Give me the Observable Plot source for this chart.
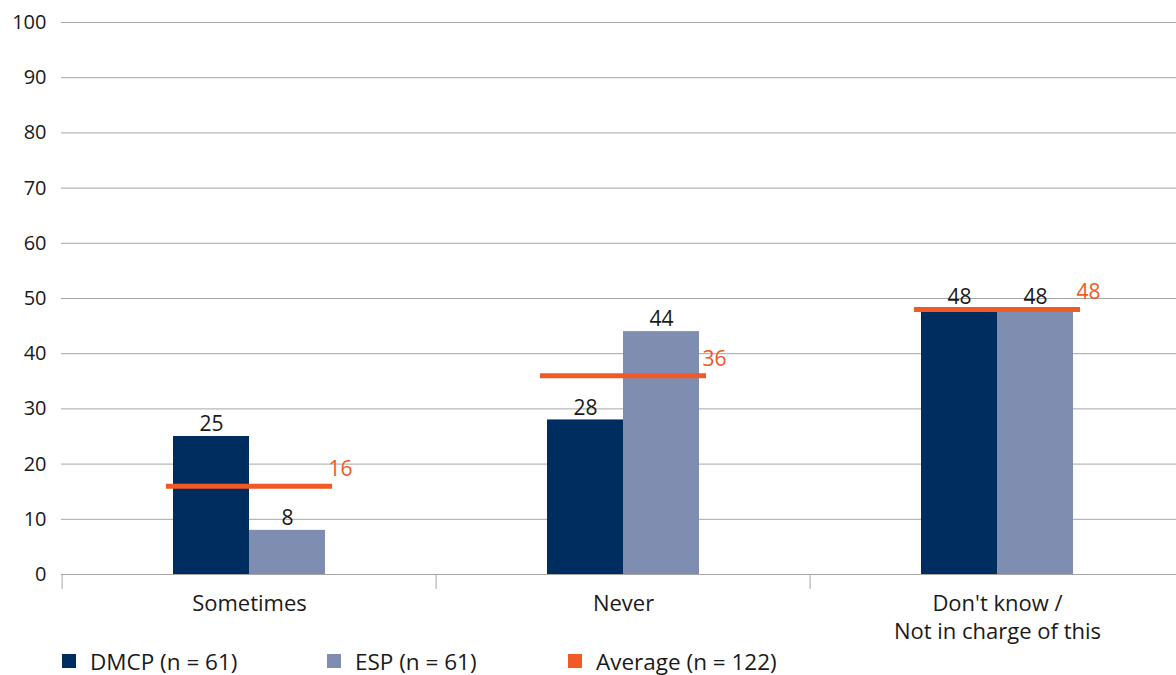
<!DOCTYPE html>
<html>
<head>
<meta charset="utf-8">
<script src="https://cdn.jsdelivr.net/npm/d3@7"></script>
<script src="https://cdn.jsdelivr.net/npm/@observablehq/plot@0.6"></script>
<style>
  html, body { margin: 0; padding: 0; background: #fff; }
  #wrap { width: 1176px; font-family: "Open Sans", sans-serif; }
  #legend { position: relative; height: 30px; font-size: 22.5px; color: #1a1a1a; }
  .item { position: absolute; top: 0; display: flex; align-items: center; height: 32px; }
  .sw { width: 14px; height: 14px; margin-right: 14px; }
</style>
</head>
<body>
<div id="wrap">
  <div id="chart"></div>
  <div id="legend"></div>
</div>
<script>
const categories = ["Sometimes", "Never", "Don't know /\nNot in charge of this"];
const dmcp = [25, 28, 48];
const esp = [8, 44, 48];
const average = [16, 36, 48];
const yTicks = [0, 10, 20, 30, 40, 50, 60, 70, 80, 90, 100];
const seriesNames = ["DMCP (n = 61)", "ESP (n = 61)", "Average (n = 122)"];
const seriesColors = ["#002d5f", "#7f8eb0", "#f15a24"];
const legendLefts = [62, 327, 568];

const rows = categories.map((c, i) => ({category: c, dmcp: dmcp[i], esp: esp[i], avg: average[i]}));

const font = '"Open Sans", sans-serif';
const chart = Plot.plot({
  width: 1176,
  height: 645,
  marginLeft: 61,
  marginRight: 0,
  marginTop: 22,
  marginBottom: 71,
  style: {fontFamily: font, fontSize: "20px", color: "#1a1a1a", background: "#fff"},
  x: {domain: categories, range: [60.6, 1184.9], paddingInner: 0.5573, paddingOuter: 0.2787, axis: null},
  y: {domain: [0, 100], ticks: yTicks, tickSize: 0, tickPadding: 15, label: null, tickFormat: d => String(d)},
  marks: [
    Plot.ruleY(yTicks, {stroke: "#a6a6a6", strokeWidth: 1}),
    Plot.ruleX(categories, {x: d => d, y1: 0, y2: -2.7, dx: -187.4, stroke: "#a6a6a6", strokeWidth: 1}),
    Plot.barY(rows, {x: "category", y: "dmcp", fill: seriesColors[0], insetLeft: 7, insetRight: 83}),
    Plot.barY(rows, {x: "category", y: "esp", fill: seriesColors[1], insetLeft: 83, insetRight: 7}),
    Plot.tickY(rows, {x: "category", y: "avg", stroke: seriesColors[2], strokeWidth: 5}),
    Plot.text(rows, {x: "category", y: "dmcp", text: d => String(d.dmcp), dx: -38, dy: -12, fill: "#1a1a1a", fontSize: 21}),
    Plot.text(rows, {x: "category", y: "esp", text: d => String(d.esp), dx: 38, dy: -12, fill: "#1a1a1a", fontSize: 21}),
    Plot.text(rows, {x: "category", y: "avg", text: d => String(d.avg), dx: 79, dy: -17, textAnchor: "start", fill: seriesColors[2], fontSize: 21}),
    Plot.text(categories, {x: d => d, y: 0, text: d => d, dy: 17, lineAnchor: "top", lineHeight: 1.25, fill: "#1a1a1a", fontSize: 22})
  ]
});
document.getElementById("chart").appendChild(chart);

const legend = document.getElementById("legend");
seriesNames.forEach((name, i) => {
  const item = document.createElement("div");
  item.className = "item";
  item.style.left = legendLefts[i] + "px";
  const sw = document.createElement("span");
  sw.className = "sw";
  sw.style.background = seriesColors[i];
  const label = document.createElement("span");
  label.textContent = name;
  item.appendChild(sw);
  item.appendChild(label);
  legend.appendChild(item);
});
</script>
</body>
</html>
